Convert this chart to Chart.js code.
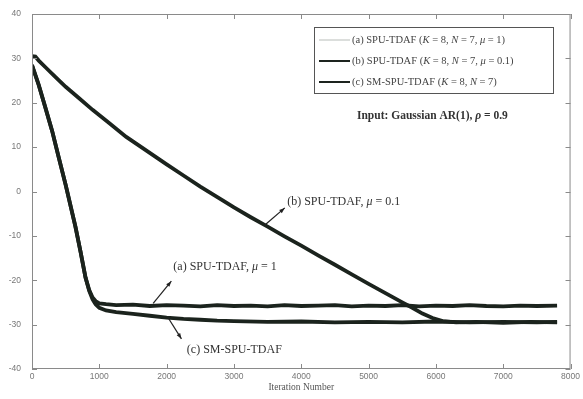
<!DOCTYPE html>
<html>
<head>
<meta charset="utf-8">
<script src="https://cdn.jsdelivr.net/npm/chart.js@4/dist/chart.umd.min.js"></script>
<style>
  html, body { margin: 0; padding: 0; background: #fff; }
  #wrap { width: 583px; height: 399px; }
</style>
</head>
<body>
<div id="wrap"><canvas id="mseChart" width="583" height="399"></canvas></div>
<script>
// learning curves, MSE in dB vs iteration
const itersA = [0, 100, 195, 300, 395, 500, 645, 720, 795, 850, 900, 945, 1000, 1100, 1250, 1500, 1750, 2000, 2250, 2500, 2750, 3000, 3250, 3500, 3750, 4000, 4250, 4500, 4750, 5000, 5250, 5500, 5750, 6000, 6250, 6500, 6750, 7000, 7250, 7500, 7800];
const mseA   = [28.5, 24, 19.1, 13.6, 7.8, 1.5, -7.9, -13.5, -19.4, -22.2, -23.9, -24.7, -25.2, -25.4, -25.6, -25.5, -25.8, -25.6, -25.7, -25.9, -25.6, -25.8, -25.7, -25.9, -25.6, -25.8, -25.7, -25.6, -25.9, -25.7, -25.8, -25.6, -25.9, -25.7, -25.8, -25.6, -25.8, -25.9, -25.7, -25.8, -25.7];

const itersB = [0, 50, 100, 200, 350, 500, 700, 900, 1150, 1400, 1700, 2000, 2250, 2500, 2820, 3000, 3250, 3500, 3750, 4000, 4250, 4500, 4750, 5000, 5250, 5500, 5650, 5800, 5950, 6100, 6300, 6600, 7000, 7400, 7800];
const mseB   = [30.5, 30.4, 29.5, 28, 25.8, 23.6, 21, 18.4, 15.4, 12.3, 9.2, 6.1, 3.6, 1.1, -1.9, -3.6, -5.8, -7.9, -10.1, -12.2, -14.4, -16.5, -18.7, -20.8, -22.9, -25, -26.2, -27.5, -28.5, -29.2, -29.5, -29.4, -29.6, -29.4, -29.5];

const itersC = [0, 100, 195, 300, 395, 500, 645, 720, 795, 850, 900, 945, 1000, 1100, 1250, 1500, 1750, 2000, 2250, 2500, 2750, 3000, 3500, 4000, 4500, 5000, 5500, 6000, 6500, 7000, 7500, 7800];
const mseC   = [28.5, 24, 19.1, 13.6, 7.8, 1.5, -7.9, -13.5, -19.4, -22.4, -24.3, -25.4, -26.2, -26.8, -27.2, -27.6, -28, -28.4, -28.7, -28.9, -29.1, -29.2, -29.4, -29.3, -29.5, -29.4, -29.5, -29.3, -29.5, -29.4, -29.5, -29.4];

const xTicks = [0, 1000, 2000, 3000, 4000, 5000, 6000, 7000, 8000];
const yTicks = [-40, -30, -20, -10, 0, 10, 20, 30, 40];

const legendLabels = [
  [['(a) SPU-TDAF ('], ['K', 1], [' = 8, '], ['N', 1], [' = 7, '], ['μ', 1], [' = 1)']],
  [['(b) SPU-TDAF ('], ['K', 1], [' = 8, '], ['N', 1], [' = 7, '], ['μ', 1], [' = 0.1)']],
  [['(c) SM-SPU-TDAF ('], ['K', 1], [' = 8, '], ['N', 1], [' = 7)']]
];
const legendColors = ['#b8bdb9', '#1d241f', '#1d241f'];

const pts = (xs, ys) => xs.map((x, i) => ({ x: x, y: ys[i] }));
const lineCol = '#1b231d';
const serif = '"Liberation Serif", "DejaVu Serif", serif';

// mixed upright / italic text run
function drawRich(ctx, parts, x, y, size, weight) {
  let cx = x;
  parts.forEach(p => {
    ctx.font = (p[1] ? 'italic ' : '') + (weight || '') + ' ' + size + 'px ' + serif;
    ctx.fillText(p[0], cx, y);
    cx += ctx.measureText(p[0]).width;
  });
}

function arrow(ctx, x1, y1, x2, y2) {
  // head at (x1, y1)
  ctx.beginPath();
  ctx.moveTo(x2, y2);
  ctx.lineTo(x1, y1);
  ctx.stroke();
  const a = Math.atan2(y1 - y2, x1 - x2);
  ctx.beginPath();
  ctx.moveTo(x1, y1);
  ctx.lineTo(x1 - 6 * Math.cos(a - 0.35), y1 - 6 * Math.sin(a - 0.35));
  ctx.lineTo(x1 - 6 * Math.cos(a + 0.35), y1 - 6 * Math.sin(a + 0.35));
  ctx.closePath();
  ctx.fill();
}

const decor = {
  id: 'decor',
  afterDatasetsDraw(chart) {
    const ctx = chart.ctx;
    const a = chart.chartArea;
    const xs = chart.scales.x, ys = chart.scales.y;
    ctx.save();

    // box and inward ticks on all sides
    ctx.strokeStyle = '#8a8a8a';
    ctx.lineWidth = 1;
    ctx.strokeRect(a.left + 0.5, a.top + 0.5, a.right - a.left - 1, a.bottom - a.top - 1);
    ctx.beginPath();
    xTicks.forEach(v => {
      const px = Math.round(xs.getPixelForValue(v)) + 0.5;
      ctx.moveTo(px, a.bottom); ctx.lineTo(px, a.bottom - 5);
      ctx.moveTo(px, a.top); ctx.lineTo(px, a.top + 5);
    });
    yTicks.forEach(v => {
      const py = Math.round(ys.getPixelForValue(v)) + 0.5;
      ctx.moveTo(a.left, py); ctx.lineTo(a.left + 5, py);
      ctx.moveTo(a.right, py); ctx.lineTo(a.right - 5, py);
    });
    ctx.stroke();

    // x axis title
    ctx.fillStyle = '#555';
    ctx.textAlign = 'center';
    ctx.textBaseline = 'middle';
    ctx.font = '9.5px ' + serif;
    ctx.fillText('Iteration Number', (a.left + a.right) / 2, 387);
    ctx.textAlign = 'left';

    // legend box
    const lx = 314, ly = 27, lw = 239, lh = 66;
    ctx.fillStyle = '#fff';
    ctx.fillRect(lx, ly, lw, lh);
    ctx.strokeStyle = '#555';
    ctx.strokeRect(lx + 0.5, ly + 0.5, lw, lh);
    legendLabels.forEach((parts, i) => {
      const ry = ly + 13 + i * 21;
      ctx.strokeStyle = legendColors[i];
      ctx.lineWidth = i === 0 ? 1 : 2;
      ctx.beginPath();
      ctx.moveTo(lx + 5, ry); ctx.lineTo(lx + 36, ry);
      ctx.stroke();
      ctx.fillStyle = '#444';
      drawRich(ctx, parts, lx + 38, ry, 10.5);
    });

    // input description
    ctx.fillStyle = '#333';
    drawRich(ctx, [['Input: Gaussian AR(1), '], ['ρ', 1], [' = 0.9']], 357, 116, 11.5, 'bold');

    // curve annotations, anchored in data units
    const P = (x, y) => [xs.getPixelForValue(x), ys.getPixelForValue(y)];
    ctx.strokeStyle = '#222';
    ctx.fillStyle = '#222';
    ctx.lineWidth = 1.2;
    let p1 = P(3755, -3.7), p2 = P(3455, -7.6);
    arrow(ctx, p1[0], p1[1], p2[0], p2[1]);
    p1 = P(2070, -20.2); p2 = P(1800, -25.2);
    arrow(ctx, p1[0], p1[1], p2[0], p2[1]);
    p1 = P(2220, -33.2); p2 = P(2025, -28.5);
    arrow(ctx, p1[0], p1[1], p2[0], p2[1]);

    ctx.fillStyle = '#333';
    let t = P(3790, -2.4);
    drawRich(ctx, [['(b) SPU-TDAF, '], ['μ', 1], [' = 0.1']], t[0], t[1], 12);
    t = P(2100, -17.0);
    drawRich(ctx, [['(a) SPU-TDAF, '], ['μ', 1], [' = 1']], t[0], t[1], 12);
    t = P(2300, -35.6);
    drawRich(ctx, [['(c) SM-SPU-TDAF']], t[0], t[1], 12);

    ctx.restore();
  }
};

const ctx = document.getElementById('mseChart').getContext('2d');
const mseChart = new Chart(ctx, {
  type: 'line',
  data: {
    datasets: [
      { label: '(b)', data: pts(itersB, mseB), borderColor: lineCol, borderWidth: 3.8 },
      { label: '(a)', data: pts(itersA, mseA), borderColor: lineCol, borderWidth: 3.8 },
      { label: '(c)', data: pts(itersC, mseC), borderColor: lineCol, borderWidth: 3.8 }
    ]
  },
  options: {
    responsive: false,
    animation: false,
    parsing: false,
    layout: { padding: { top: 14, right: 10, left: 0, bottom: 0 } },
    elements: { point: { radius: 0 }, line: { tension: 0 } },
    plugins: { legend: { display: false }, tooltip: { enabled: false } },
    scales: {
      x: {
        type: 'linear',
        min: 0, max: 8000,
        afterBuildTicks: s => { s.ticks = xTicks.map(v => ({ value: v })); },
        afterFit: s => { s.height = 30; },
        grid: { display: false, tickLength: 0 },
        border: { display: false },
        ticks: { color: '#777', font: { size: 8.5, family: 'Liberation Sans' }, maxRotation: 0, padding: 3, callback: v => String(v) }
      },
      y: {
        min: -40, max: 40,
        afterBuildTicks: s => { s.ticks = yTicks.map(v => ({ value: v })); },
        afterFit: s => { s.width = 32; },
        grid: { display: false },
        border: { display: false },
        ticks: { color: '#777', font: { size: 8.5, family: 'Liberation Sans' }, padding: 3 }
      }
    }
  },
  plugins: [decor]
});
</script>
</body>
</html>
